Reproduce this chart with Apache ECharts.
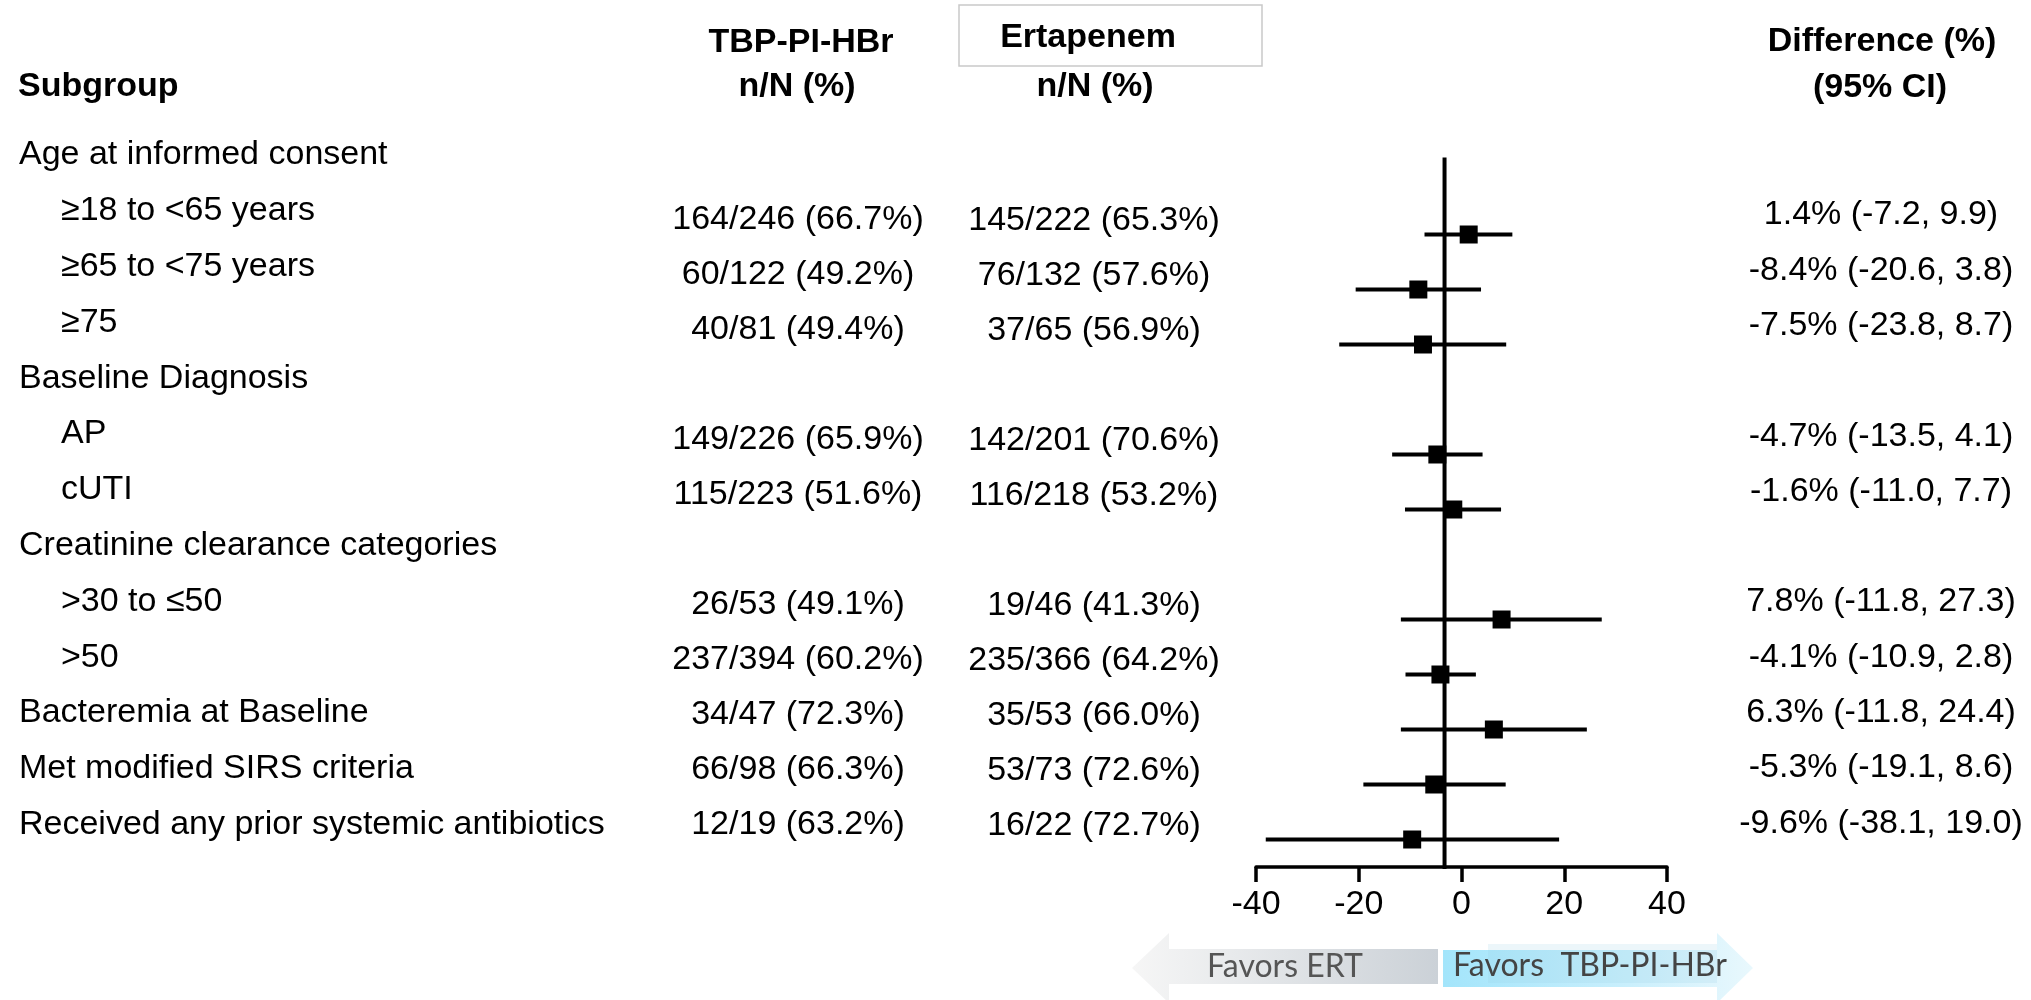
<!DOCTYPE html>
<html>
<head>
<meta charset="utf-8">
<script src="https://cdn.jsdelivr.net/npm/echarts@6/dist/echarts.min.js"></script>
<style>
  html, body { margin: 0; padding: 0; background: #fff; }
  #chart { width: 2031px; height: 1000px; }
</style>
</head>
<body>
<div id="chart"></div>
<script>
// subgroup forest plot: TBP-PI-HBr vs Ertapenem

const rowLabels = [
  "Age at informed consent",
  "≥18 to <65 years",
  "≥65 to <75 years",
  "≥75",
  "Baseline Diagnosis",
  "AP",
  "cUTI",
  "Creatinine clearance categories",
  ">30 to ≤50",
  ">50",
  "Bacteremia at Baseline",
  "Met modified SIRS criteria",
  "Received any prior systemic antibiotics"
];
const rowIndent = [0, 1, 1, 1, 0, 1, 1, 0, 1, 1, 0, 0, 0];

// rows that carry an estimate (index into rowLabels)
const estRows = [1, 2, 3, 5, 6, 8, 9, 10, 11, 12];
const tbpText = [
  "164/246 (66.7%)", "60/122 (49.2%)", "40/81 (49.4%)",
  "149/226 (65.9%)", "115/223 (51.6%)",
  "26/53 (49.1%)", "237/394 (60.2%)",
  "34/47 (72.3%)", "66/98 (66.3%)", "12/19 (63.2%)"
];
const ertText = [
  "145/222 (65.3%)", "76/132 (57.6%)", "37/65 (56.9%)",
  "142/201 (70.6%)", "116/218 (53.2%)",
  "19/46 (41.3%)", "235/366 (64.2%)",
  "35/53 (66.0%)", "53/73 (72.6%)", "16/22 (72.7%)"
];
const diffEst  = [1.4, -8.4, -7.5, -4.7, -1.6, 7.8, -4.1, 6.3, -5.3, -9.6];
const diffLow  = [-7.2, -20.6, -23.8, -13.5, -11.0, -11.8, -10.9, -11.8, -19.1, -38.1];
const diffHigh = [9.9, 3.8, 8.7, 4.1, 7.7, 27.3, 2.8, 24.4, 8.6, 19.0];

const xMin = -40, xMax = 40, xStep = 20;
const refLine = -3.3;

const FONT = "'Liberation Sans', Arial, Helvetica, sans-serif";
const BODY = 34;

const chart = echarts.init(document.getElementById("chart"));

// text columns live in thin grids with their own row spacing
function textGrid(left, top, rowH) {
  return { left: left, width: 2, top: top, height: rowH * 12 };
}
const grids = [
  textGrid(18, 155, 55.8),     // subgroup
  textGrid(797, 157, 55),      // TBP-PI-HBr
  textGrid(1093, 157, 55),     // Ertapenem
  textGrid(1880, 159.7, 55.3), // difference
  { left: 1256, right: 364, top: 146.5, bottom: 133 } // forest
];

const xAxes = grids.map((g, i) => i < 4
  ? { gridIndex: i, type: "value", min: -1, max: 1, show: false }
  : {
      gridIndex: i, type: "value", min: xMin, max: xMax, interval: xStep,
      axisLine: { show: true, onZero: false, lineStyle: { color: "#000", width: 3.5 } },
      axisTick: { show: true, length: 15, lineStyle: { color: "#000", width: 3.5 } },
      axisLabel: { color: "#000", fontSize: BODY, fontFamily: FONT, margin: 21 },
      splitLine: { show: false }
    });
const yAxes = grids.map((g, i) => i < 4
  ? { gridIndex: i, type: "value", min: 0, max: 12, inverse: true, show: false }
  : { gridIndex: i, type: "value", min: -0.6, max: 12.5, inverse: true, show: false });

function textSeries(idx, items, align, dy) {
  return {
    type: "scatter",
    xAxisIndex: idx, yAxisIndex: idx,
    symbolSize: 0,
    silent: true,
    itemStyle: { opacity: 1 },
    data: items,
    label: {
      show: true,
      position: "inside",
      align: align,
      verticalAlign: "middle",
      offset: [0, dy],
      color: "#000",
      opacity: 1,
      fontSize: BODY,
      fontFamily: FONT,
      textBorderWidth: 0,
      formatter: (p) => p.name
    }
  };
}

const labelItems = rowLabels.map((t, r) => ({
  name: t, value: [0, r], label: { offset: [rowIndent[r] * 42, 0] }
}));
const tbpItems = estRows.map((r, i) => ({ name: tbpText[i], value: [0, r] }));
const ertItems = estRows.map((r, i) => ({ name: ertText[i], value: [0, r] }));
const diffItems = estRows.map((r, i) => ({
  name: `${diffEst[i].toFixed(1)}% (${diffLow[i].toFixed(1)}, ${diffHigh[i].toFixed(1)})`,
  value: [0, r]
}));

const header = (text, x, y, align) => ({
  type: "text", x: x, y: y, silent: true,
  style: {
    text: text, fill: "#000", align: align, verticalAlign: "middle",
    font: `bold ${BODY}px ${FONT}`
  }
});

const grayArrow = {
  type: "polygon", silent: true,
  shape: { points: [[1169, 949], [1438, 949], [1438, 984], [1169, 984], [1169, 1003], [1132, 968], [1169, 933]] },
  style: {
    fill: new echarts.graphic.LinearGradient(0, 0, 1, 0, [
      { offset: 0, color: "#f6f6f6" }, { offset: 1, color: "#cbd1d7" }
    ])
  }
};
const blueArrow = {
  type: "polygon", silent: true,
  shape: { points: [[1443, 950], [1717, 950], [1717, 933], [1753, 968], [1717, 1003], [1717, 987], [1443, 987]] },
  style: {
    fill: new echarts.graphic.LinearGradient(0, 0, 1, 0, [
      { offset: 0, color: "#a3e5fb" }, { offset: 0.6, color: "#c9effc" }, { offset: 1, color: "#e9f8fd" }
    ])
  }
};
const blueOverlay = {
  type: "rect", silent: true,
  shape: { x: 1488, y: 944, width: 229, height: 39 },
  style: { fill: "rgba(150,205,230,0.18)" }
};

chart.setOption({
  backgroundColor: "#fff",
  animation: false,
  grid: grids,
  xAxis: xAxes,
  yAxis: yAxes,
  graphic: [
    header("Subgroup", 18, 87, "left"),
    header("TBP-PI-HBr", 801, 43, "center"),
    header("n/N (%)", 797, 87, "center"),
    {
      type: "rect", silent: true,
      shape: { x: 959, y: 5, width: 303, height: 61 },
      style: { fill: "#fff", stroke: "#c9c9c9", lineWidth: 1.5 }
    },
    header("Ertapenem", 1088, 38, "center"),
    header("n/N (%)", 1095, 87, "center"),
    header("Difference (%)", 1882, 42, "center"),
    header("(95% CI)", 1880, 88, "center"),
    grayArrow, blueArrow, blueOverlay,
    {
      type: "text", x: 1207, y: 967, silent: true,
      style: { text: "Favors ERT", fill: "#555", verticalAlign: "middle", font: "32px Lato, 'Open Sans', sans-serif" }
    },
    {
      type: "text", x: 1453, y: 966, silent: true,
      style: { text: "Favors  TBP-PI-HBr", fill: "#444", verticalAlign: "middle", font: "32px Lato, 'Open Sans', sans-serif" }
    }
  ],
  series: [
    textSeries(0, labelItems, "left", 0),
    textSeries(1, tbpItems, "center", 8),
    textSeries(2, ertItems, "center", 9),
    textSeries(3, diffItems, "center", 0),
    {
      // reference line
      type: "line", xAxisIndex: 4, yAxisIndex: 4,
      data: [[refLine, -0.4], [refLine, 12.55]],
      symbol: "none", silent: true,
      lineStyle: { color: "#000", width: 4 }
    },
    {
      // confidence intervals
      type: "custom", xAxisIndex: 4, yAxisIndex: 4, silent: true,
      data: estRows.map((r, i) => [r, diffLow[i], diffHigh[i]]),
      encode: { x: [1, 2], y: 0 },
      renderItem: (params, api) => {
        const r = api.value(0);
        const a = api.coord([api.value(1), r]);
        const b = api.coord([api.value(2), r]);
        return {
          type: "line",
          shape: { x1: a[0], y1: a[1], x2: b[0], y2: b[1] },
          style: { stroke: "#000", lineWidth: 4 }
        };
      }
    },
    {
      type: "scatter", xAxisIndex: 4, yAxisIndex: 4, silent: true,
      symbol: "rect", symbolSize: 18,
      itemStyle: { color: "#000", opacity: 1 },
      data: estRows.map((r, i) => [diffEst[i], r])
    }
  ]
});
</script>
</body>
</html>
